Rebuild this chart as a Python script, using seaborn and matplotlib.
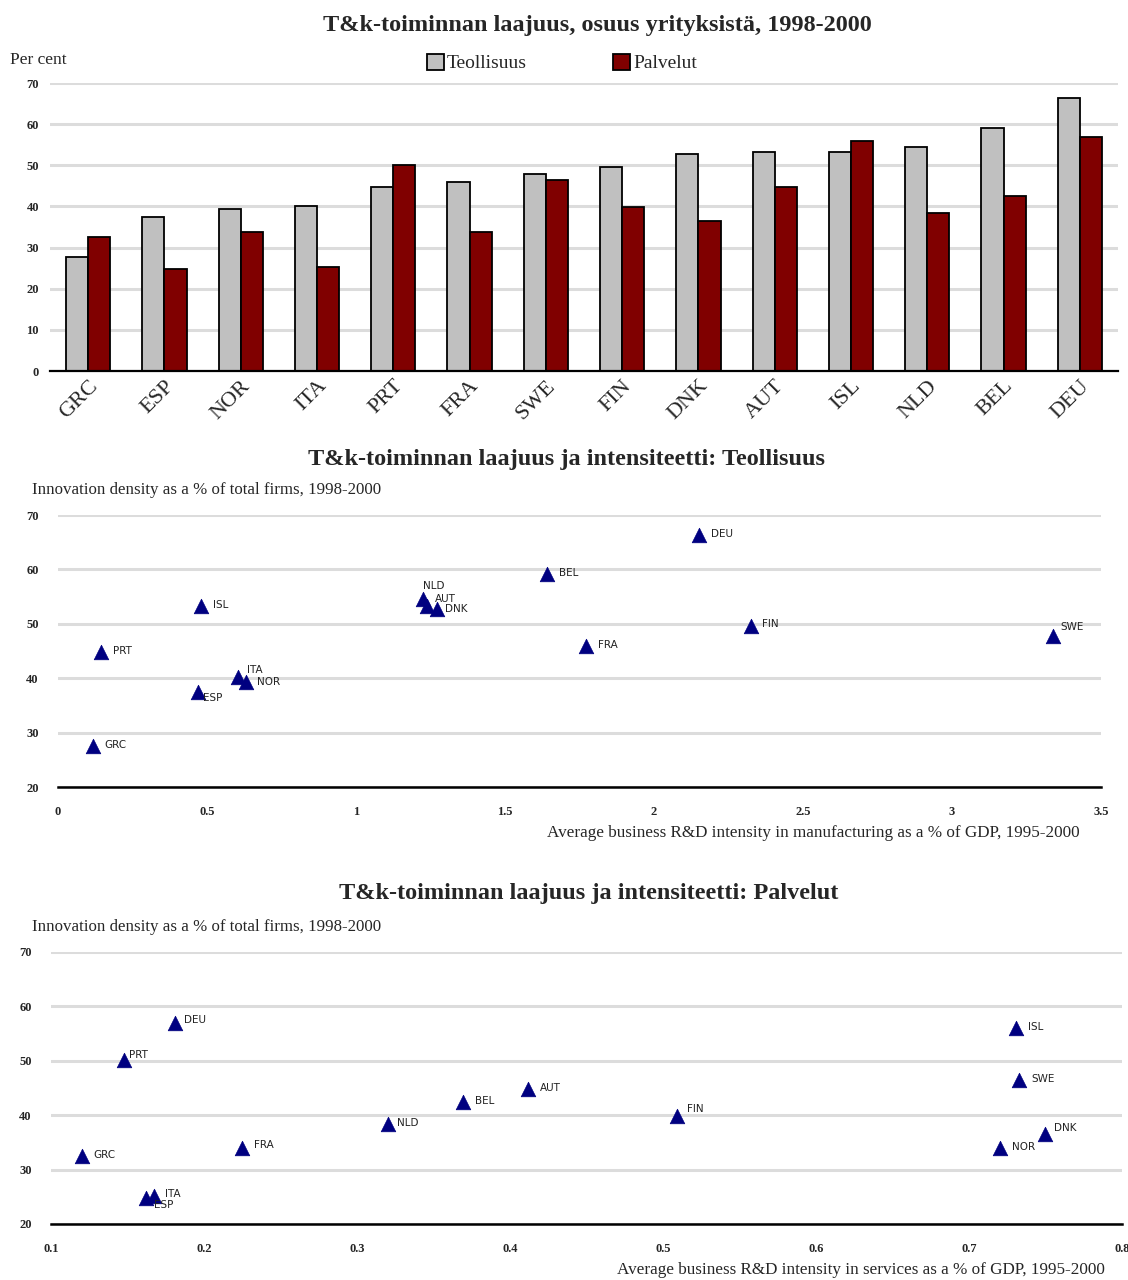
import pandas as pd
import seaborn as sns
import matplotlib.pyplot as plt
from matplotlib.ticker import FuncFormatter, MultipleLocator

# --- data ---
BAR_COUNTRIES = ["GRC", "ESP", "NOR", "ITA", "PRT", "FRA", "SWE",
                 "FIN", "DNK", "AUT", "ISL", "NLD", "BEL", "DEU"]
TEOLLISUUS = [27.6, 37.5, 39.3, 40.2, 44.8, 46.0, 47.8,
              49.6, 52.8, 53.3, 53.3, 54.5, 59.1, 66.4]
PALVELUT = [32.5, 24.8, 33.9, 25.2, 50.1, 33.9, 46.5,
            39.8, 36.5, 44.8, 56.0, 38.4, 42.5, 56.9]

MANU_COUNTRIES = ["DEU", "BEL", "NLD", "AUT", "DNK", "ISL", "PRT",
                  "ITA", "NOR", "ESP", "GRC", "FRA", "FIN", "SWE"]
MANU_RD = [2.15, 1.64, 1.225, 1.238, 1.272, 0.48, 0.144,
           0.604, 0.631, 0.47, 0.117, 1.772, 2.326, 3.339]
MANU_DENSITY = [66.4, 59.1, 54.5, 53.3, 52.8, 53.3, 44.8,
                40.2, 39.3, 37.5, 27.6, 46.0, 49.6, 47.8]

SERV_COUNTRIES = ["DEU", "PRT", "GRC", "ITA", "ESP", "FRA", "NLD",
                  "BEL", "AUT", "FIN", "ISL", "SWE", "DNK", "NOR"]
SERV_RD = [0.181, 0.148, 0.12, 0.167, 0.162, 0.225, 0.32,
           0.369, 0.412, 0.509, 0.731, 0.733, 0.75, 0.72]
SERV_DENSITY = [56.9, 50.1, 32.5, 25.2, 24.8, 33.9, 38.4,
                42.5, 44.8, 39.8, 56.0, 46.5, 36.5, 33.9]

# label offsets in pixels (style only)
MANU_OFFSETS = {"NLD": (0, 13), "AUT": (8, 7), "DNK": (8, 0), "ITA": (9, 7),
                "NOR": (11, 0), "ESP": (5, -6), "SWE": (7, 9), "FIN": (11, 2)}
SERV_OFFSETS = {"DEU": (9, 3), "PRT": (5, 5), "ITA": (11, 2), "ESP": (8, -7),
                "FIN": (10, 7), "DNK": (9, 6), "NLD": (9, 1), "FRA": (12, 3)}

GREY = "#c0c0c0"
DARK_RED = "#800000"
NAVY = "#000080"
GRID = "#dcdcdc"
SERIF = "Liberation Serif"

sns.set_theme(style="white")
plt.rcParams["font.family"] = [SERIF, "DejaVu Serif"]

fig = plt.figure(figsize=(11.28, 12.8), dpi=100)

# ---------------- bar chart ----------------
ax1 = fig.add_axes([50 / 1128, 1 - 371 / 1280, 1068 / 1128, 288 / 1280])
bars = pd.DataFrame({
    "country": BAR_COUNTRIES * 2,
    "value": TEOLLISUUS + PALVELUT,
    "series": ["Teollisuus"] * len(BAR_COUNTRIES) + ["Palvelut"] * len(BAR_COUNTRIES),
})
sns.barplot(data=bars, x="country", y="value", hue="series",
            palette={"Teollisuus": GREY, "Palvelut": DARK_RED},
            order=BAR_COUNTRIES, hue_order=["Teollisuus", "Palvelut"],
            width=0.58, saturation=1, edgecolor="black", linewidth=1.3,
            ax=ax1, zorder=3)
ax1.set_xlim(-0.5, len(BAR_COUNTRIES) - 0.5)
ax1.set_ylim(0, 70)
ax1.yaxis.set_major_locator(MultipleLocator(10))
ax1.grid(axis="y", color=GRID, linewidth=2.2, zorder=0)
ax1.set_xlabel("")
ax1.set_ylabel("")
for s in ["left", "right", "top"]:
    ax1.spines[s].set_visible(False)
ax1.spines["bottom"].set_color("black")
ax1.spines["bottom"].set_linewidth(1.6)
ax1.spines["bottom"].set_zorder(4)
ax1.tick_params(axis="x", which="major", length=0, pad=4)
ax1.set_xticks([i + 0.5 for i in range(-1, len(BAR_COUNTRIES))], minor=True)
ax1.tick_params(axis="x", which="minor", length=5, width=1.2, color="black", direction="out")
ax1.tick_params(axis="y", length=0, labelsize=9, pad=8)
plt.setp(ax1.get_xticklabels(), rotation=45, ha="right", rotation_mode="anchor", fontsize=16)
for lab in ax1.get_yticklabels():
    lab.set_fontweight("bold")
handles, labels = ax1.get_legend_handles_labels()
ax1.get_legend().remove()
fig.legend(handles, labels, loc="center", bbox_to_anchor=(0.498, 1 - 63 / 1280),
           ncol=2, frameon=False, fontsize=14, handlelength=0.9, handleheight=0.9,
           handletextpad=0.15, columnspacing=4.4)
fig.text(597 / 1128, 1 - 25 / 1280, "T&k-toiminnan laajuus, osuus yrityksistä, 1998-2000",
         ha="center", va="center", fontsize=17.5, fontweight="bold")
fig.text(10 / 1128, 1 - 60 / 1280, "Per cent", ha="left", va="center", fontsize=12.5)


def scatter_panel(ax, xs, ys, names, offsets, xlim, xstep):
    df = pd.DataFrame({"x": xs, "y": ys, "name": names})
    sns.scatterplot(data=df, x="x", y="y", marker="^", color=NAVY, s=110,
                    edgecolor=NAVY, linewidth=0.5, ax=ax, zorder=3)
    for x, y, name in zip(xs, ys, names):
        dx, dy = offsets.get(name, (12, 1))
        ax.annotate(name, (x, y), xytext=(dx, dy), textcoords="offset pixels",
                    ha="left", va="center", fontsize=7.5, family="DejaVu Sans",
                    color="#222222")
    ax.set_xlim(*xlim)
    ax.set_ylim(20, 70)
    ax.yaxis.set_major_locator(MultipleLocator(10))
    ax.xaxis.set_major_locator(MultipleLocator(xstep))
    ax.xaxis.set_major_formatter(FuncFormatter(lambda v, p: f"{v:g}"))
    ax.grid(axis="y", color=GRID, linewidth=2.2, zorder=0)
    ax.set_xlabel("")
    ax.set_ylabel("")
    for s in ["left", "right", "top"]:
        ax.spines[s].set_visible(False)
    ax.spines["bottom"].set_color("black")
    ax.spines["bottom"].set_linewidth(1.8)
    ax.tick_params(axis="x", length=4, width=1.2, direction="in", color="black",
                   labelsize=9, pad=14)
    ax.tick_params(axis="y", length=0, labelsize=9, pad=14)
    for lab in ax.get_xticklabels() + ax.get_yticklabels():
        lab.set_fontweight("bold")


# ---------------- manufacturing scatter ----------------
ax2 = fig.add_axes([58 / 1128, 1 - 787 / 1280, 1043 / 1128, 272 / 1280])
scatter_panel(ax2, MANU_RD, MANU_DENSITY, MANU_COUNTRIES, MANU_OFFSETS, (0, 3.5), 0.5)
fig.text(567 / 1128, 1 - 460 / 1280, "T&k-toiminnan laajuus ja intensiteetti: Teollisuus",
         ha="center", va="center", fontsize=17.5, fontweight="bold")
fig.text(32 / 1128, 1 - 490 / 1280, "Innovation density as a % of total firms, 1998-2000",
         ha="left", va="center", fontsize=12.2)
fig.text(1080 / 1128, 1 - 833 / 1280,
         "Average business R&D intensity in manufacturing as a % of GDP, 1995-2000",
         ha="right", va="center", fontsize=12.3)

# ---------------- services scatter ----------------
ax3 = fig.add_axes([51 / 1128, 1 - 1224 / 1280, 1071 / 1128, 272 / 1280])
scatter_panel(ax3, SERV_RD, SERV_DENSITY, SERV_COUNTRIES, SERV_OFFSETS, (0.1, 0.8), 0.1)
fig.text(589 / 1128, 1 - 893 / 1280, "T&k-toiminnan laajuus ja intensiteetti: Palvelut",
         ha="center", va="center", fontsize=17.5, fontweight="bold")
fig.text(32 / 1128, 1 - 927 / 1280, "Innovation density as a % of total firms, 1998-2000",
         ha="left", va="center", fontsize=12.2)
fig.text(1105 / 1128, 1 - 1270 / 1280,
         "Average business R&D intensity in services as a % of GDP, 1995-2000",
         ha="right", va="center", fontsize=12.3)

fig.savefig("out.png", dpi=100, facecolor="white")
plt.close(fig)
